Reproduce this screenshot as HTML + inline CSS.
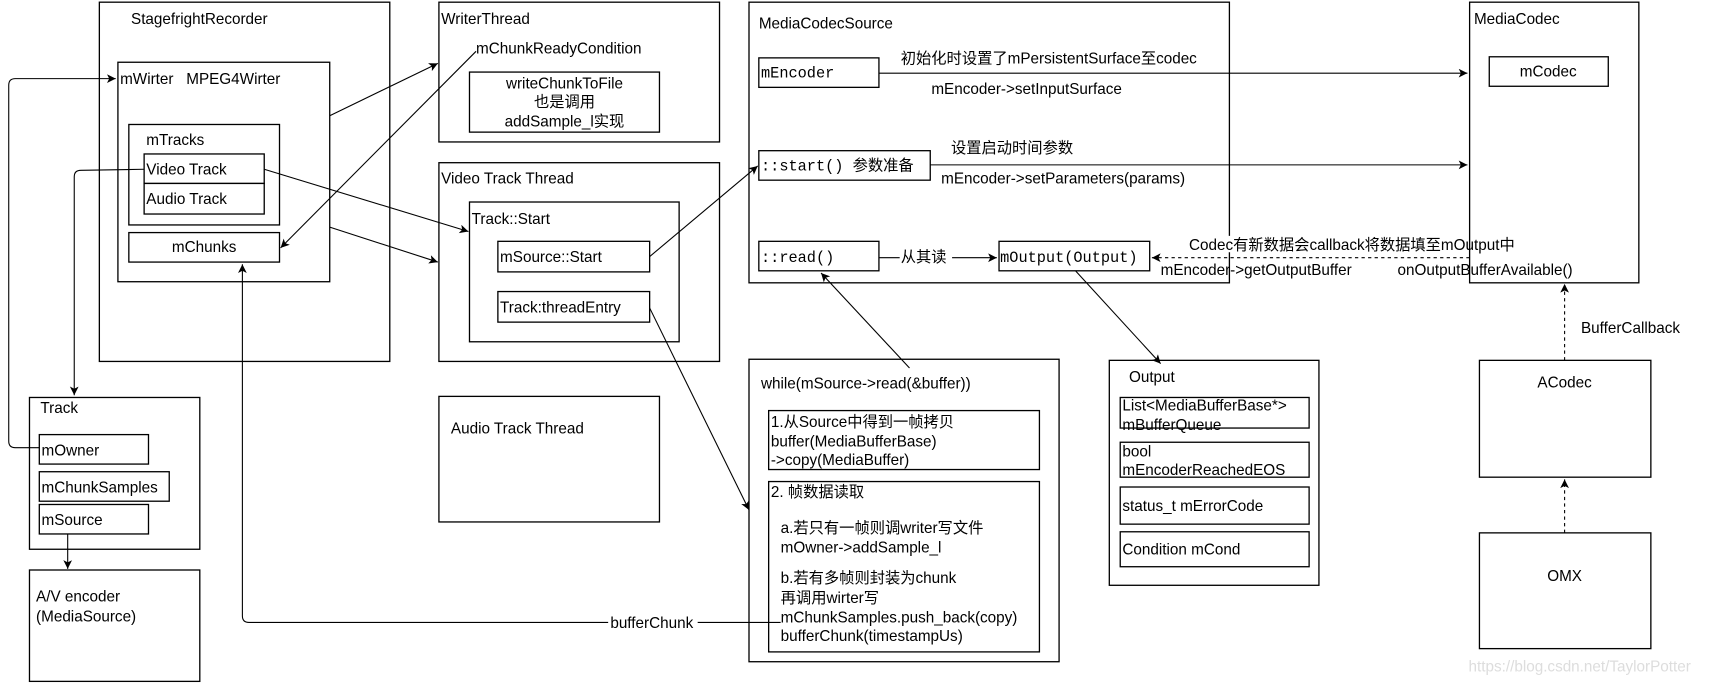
<!DOCTYPE html>
<html><head><meta charset="utf-8"><style>
html,body{margin:0;padding:0;background:#fff;}
svg{display:block;}
text{font-family:"Liberation Sans","Noto Sans CJK SC",sans-serif;font-size:14px;fill:#000;white-space:pre;}
.m{font-family:"Liberation Mono","Noto Sans CJK SC",monospace;}
rect{fill:#fff;stroke:#000;stroke-width:1.2;}
line,path.l{stroke:#000;stroke-width:1;fill:none;}
.d{stroke-dasharray:3,3;}
</style></head><body>
<svg width="1712" height="684" viewBox="0 0 1568 626.4" preserveAspectRatio="none" xmlns="http://www.w3.org/2000/svg">
<defs><marker id="a" markerWidth="10" markerHeight="10" refX="8" refY="4" orient="auto" markerUnits="userSpaceOnUse"><path d="M0,0 L8,4 L0,8 L2,4 z" fill="#000"/></marker></defs>

<rect x="91" y="2" width="266" height="329"/>
<text x="120" y="22">StagefrightRecorder</text>
<rect x="108" y="57" width="194" height="201"/>
<text x="110" y="77">mWirter&#160;&#160;&#160;MPEG4Wirter</text>
<rect x="118" y="114" width="138" height="92"/>
<text x="134" y="133">mTracks</text>
<rect x="132" y="141" width="110" height="27"/><text x="134" y="160">Video Track</text>
<rect x="132" y="168" width="110" height="28"/><text x="134" y="187">Audio Track</text>
<rect x="118" y="213" width="138" height="27"/><text x="187" y="231" text-anchor="middle">mChunks</text>

<rect x="402" y="2" width="257" height="128"/>
<text x="404" y="22">WriterThread</text>
<text x="436" y="49">mChunkReadyCondition</text>
<rect x="430" y="66" width="174" height="55"/>
<text x="517" y="81" text-anchor="middle">writeChunkToFile</text>
<text x="517" y="98" text-anchor="middle">也是调用</text>
<text x="517" y="116" text-anchor="middle">addSample_l实现</text>

<rect x="402" y="149" width="257" height="182"/>
<text x="404" y="168">Video Track Thread</text>
<rect x="430" y="185" width="192" height="128"/>
<text x="432" y="205">Track::Start</text>
<rect x="456" y="221" width="139" height="28"/><text x="458" y="240">mSource::Start</text>
<rect x="456" y="267" width="139" height="28"/><text x="458" y="286">Track:threadEntry</text>

<rect x="402" y="363" width="202" height="115"/>
<text x="413" y="397">Audio Track Thread</text>

<rect x="27" y="364" width="156" height="139"/>
<text x="37" y="378">Track</text>
<rect x="36" y="398" width="100" height="27"/><text x="38" y="417">mOwner</text>
<rect x="36" y="432" width="119" height="27"/><text x="38" y="451">mChunkSamples</text>
<rect x="36" y="462" width="100" height="27"/><text x="38" y="481">mSource</text>

<rect x="27" y="522" width="156" height="102"/>
<text x="33" y="551">A/V encoder</text>
<text x="33" y="569">(MediaSource)</text>

<rect x="686" y="2" width="440" height="257"/>
<text x="695" y="26">MediaCodecSource</text>
<rect x="695" y="53" width="110" height="27"/><text class="m" x="697" y="71">mEncoder</text>
<rect x="695" y="138" width="157" height="27"/><text class="m" x="697" y="156">::start() 参数准备</text>
<rect x="695" y="221" width="110" height="27"/><text class="m" x="697" y="240">::read()</text>
<rect x="915" y="221" width="138" height="27"/><text class="m" x="916" y="240">mOutput(Output)</text>

<rect x="1346" y="2" width="155" height="257"/>
<text x="1350" y="22">MediaCodec</text>
<rect x="1364" y="52" width="109" height="27"/><text x="1418" y="70" text-anchor="middle">mCodec</text>

<rect x="686" y="329" width="284" height="277"/>
<text x="697" y="356">while(mSource-&gt;read(&amp;buffer))</text>
<rect x="704" y="376" width="248" height="54"/>
<text x="706" y="391">1.从Source中得到一帧拷贝</text>
<text x="706" y="409">buffer(MediaBufferBase)</text>
<text x="706" y="426">-&gt;copy(MediaBuffer)</text>
<rect x="704" y="441" width="248" height="156"/>
<text x="706" y="455">2. 帧数据读取</text>
<text x="715" y="488">a.若只有一帧则调writer写文件</text>
<text x="715" y="506">mOwner-&gt;addSample_l</text>
<text x="715" y="534">b.若有多帧则封装为chunk</text>
<text x="715" y="552">再调用wirter写</text>
<text x="715" y="570">mChunkSamples.push_back(copy)</text>
<text x="715" y="587">bufferChunk(timestampUs)</text>

<rect x="1016" y="330" width="192" height="206"/>
<text x="1034" y="350">Output</text>
<rect x="1026" y="364" width="173" height="28"/>
<text x="1028" y="376">List&lt;MediaBufferBase*&gt;</text><text x="1028" y="394">mBufferQueue</text>
<rect x="1026" y="405" width="173" height="32"/>
<text x="1028" y="418">bool</text><text x="1028" y="435">mEncoderReachedEOS</text>
<rect x="1026" y="446" width="173" height="34"/><text x="1028" y="468">status_t mErrorCode</text>
<rect x="1026" y="487" width="173" height="32"/><text x="1028" y="508">Condition mCond</text>

<rect x="1355" y="330" width="157" height="107"/><text x="1433" y="355" text-anchor="middle">ACodec</text>
<rect x="1355" y="488" width="157" height="106"/><text x="1433" y="532" text-anchor="middle">OMX</text>

<line x1="805" y1="67" x2="1344" y2="67" marker-end="url(#a)"/>
<text x="825" y="58">初始化时设置了mPersistentSurface至codec</text>
<text x="853" y="86">mEncoder-&gt;setInputSurface</text>
<line x1="852" y1="151" x2="1344" y2="151" marker-end="url(#a)"/>
<text x="871" y="140">设置启动时间参数</text>
<text x="862" y="168">mEncoder-&gt;setParameters(params)</text>
<line x1="805" y1="236" x2="913" y2="236" marker-end="url(#a)"/>
<rect x="824" y="227" width="48" height="16" style="stroke:none"/>
<text x="825" y="240">从其读</text>
<line class="d" x1="1346" y1="236" x2="1055" y2="236" marker-end="url(#a)"/>
<rect x="1088" y="216" width="212" height="15" style="stroke:none"/>
<text x="1089" y="229">Codec有新数据会callback将数据填至mOutput中</text>
<text x="1063" y="252">mEncoder-&gt;getOutputBuffer</text>
<text x="1280" y="252">onOutputBufferAvailable()</text>
<line class="d" x1="1433" y1="330" x2="1433" y2="260" marker-end="url(#a)"/>
<text x="1448" y="305">BufferCallback</text>
<line class="d" x1="1433" y1="488" x2="1433" y2="439" marker-end="url(#a)"/>

<line x1="985" y1="248" x2="1063" y2="333" marker-end="url(#a)"/>
<line x1="833" y1="337" x2="752" y2="250" marker-end="url(#a)"/>
<line x1="595" y1="282" x2="686" y2="467" marker-end="url(#a)"/>
<line x1="595" y1="235" x2="694" y2="152" marker-end="url(#a)"/>
<line x1="302" y1="106" x2="401" y2="58" marker-end="url(#a)"/>
<line x1="302" y1="208" x2="401" y2="240" marker-end="url(#a)"/>
<line x1="242" y1="155" x2="429" y2="212" marker-end="url(#a)"/>
<line x1="436" y1="47" x2="257" y2="227" marker-end="url(#a)"/>
<path class="l" d="M36,410 L14,410 Q8,410 8,404 L8,78 Q8,72 14,72 L106,72" marker-end="url(#a)"/>
<path class="l" d="M132,155 L74,156 Q68,156 68,162 L68,362" marker-end="url(#a)"/>
<line x1="62" y1="489" x2="62" y2="521" marker-end="url(#a)"/>
<path class="l" d="M715,570 L228,570 Q222,570 222,564 L222,242" marker-end="url(#a)"/>
<rect x="557" y="562" width="82" height="16" style="stroke:none"/>
<text x="559" y="575">bufferChunk</text>

<text x="1345" y="615" style="fill:#ddd;font-size:14px">https://blog.csdn.net/TaylorPotter</text>
</svg>
</body></html>
